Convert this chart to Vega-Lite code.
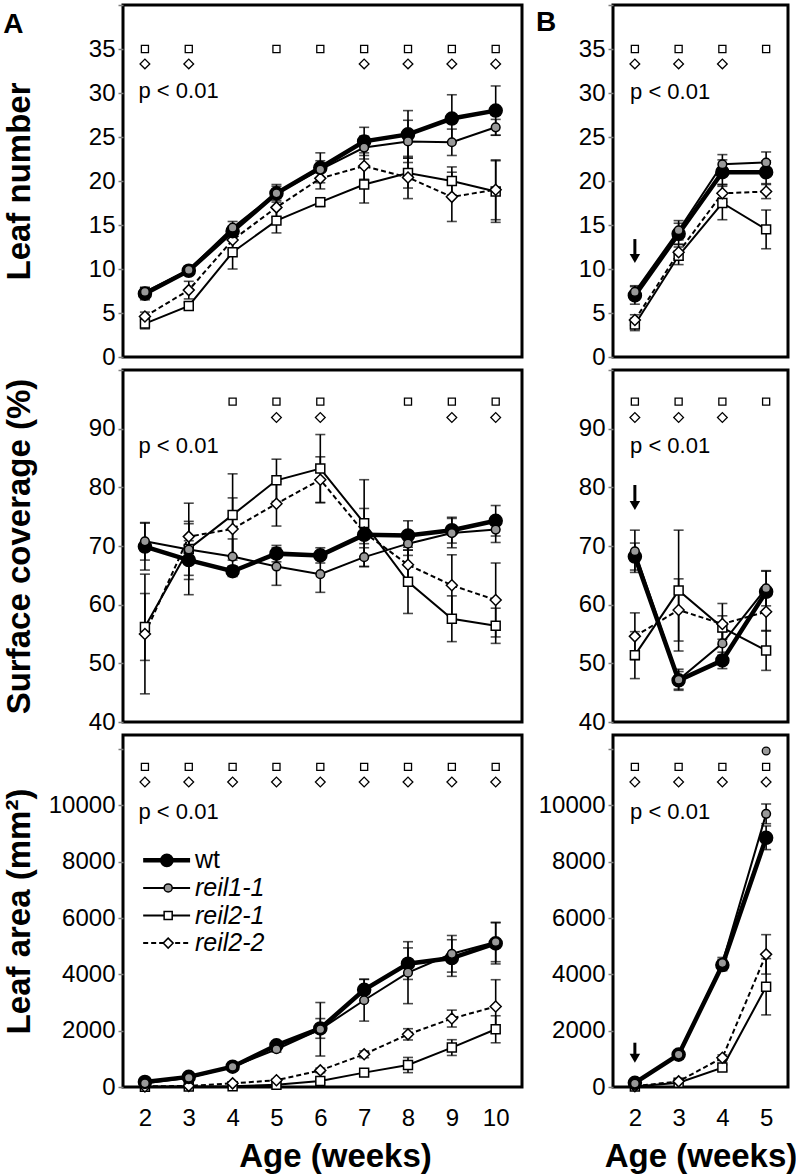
{
"$schema":"https://vega.github.io/schema/vega-lite/v6.json",
"padding":{"left":1,"top":2,"right":0,"bottom":0},
"config":{
 "font":"Liberation Sans",
 "view":{"stroke":"black","strokeWidth":3},
 "axis":{"grid":false,"domain":false,"labelFontSize":24,"labelColor":"black","labelFont":"Liberation Sans","tickColor":"#7f7f7f","tickSize":5,"tickWidth":1.5,"labelPadding":3,"titleFont":"Liberation Sans","titleFontSize":33,"titleFontWeight":"bold","titleColor":"black","labelFlush":false,"labelOverlap":false},
 "axisX":{"ticks":false,"tickSize":0,"labelPadding":19,"titlePadding":10},
 "axisY":{"minExtent":75,"maxExtent":75,"titlePadding":12},
 "line":{"color":"black","strokeWidth":2},
 "point":{"filled":true,"stroke":"black","strokeWidth":1.5,"opacity":1},
 "rule":{"color":"black"},
 "text":{"color":"black"}
},
"datasets":{
 "main":[
  {"p":"TL","s":"reil2-1","x":2,"y":3.8,"e":0.6},{"p":"TL","s":"reil2-1","x":3,"y":5.8,"e":0.4},{"p":"TL","s":"reil2-1","x":4,"y":11.9,"e":1.9},{"p":"TL","s":"reil2-1","x":5,"y":15.5,"e":1.4},{"p":"TL","s":"reil2-1","x":6,"y":17.6,"e":0.5},{"p":"TL","s":"reil2-1","x":7,"y":19.6,"e":2.1},{"p":"TL","s":"reil2-1","x":8,"y":20.9,"e":1.7},{"p":"TL","s":"reil2-1","x":9,"y":20.0,"e":1.6},{"p":"TL","s":"reil2-1","x":10,"y":18.8,"e":3.5},
  {"p":"TL","s":"reil2-2","x":2,"y":4.6,"e":0.5},{"p":"TL","s":"reil2-2","x":3,"y":7.6,"e":1.0},{"p":"TL","s":"reil2-2","x":4,"y":13.3,"e":1.1},{"p":"TL","s":"reil2-2","x":5,"y":17.0,"e":1.1},{"p":"TL","s":"reil2-2","x":6,"y":20.3,"e":1.2},{"p":"TL","s":"reil2-2","x":7,"y":21.7,"e":1.5},{"p":"TL","s":"reil2-2","x":8,"y":20.4,"e":2.4},{"p":"TL","s":"reil2-2","x":9,"y":18.2,"e":2.8},{"p":"TL","s":"reil2-2","x":10,"y":19.0,"e":3.4},
  {"p":"TL","s":"wt","x":2,"y":7.2,"e":0.7},{"p":"TL","s":"wt","x":3,"y":9.8,"e":0.4},{"p":"TL","s":"wt","x":4,"y":14.3,"e":0.6},{"p":"TL","s":"wt","x":5,"y":18.6,"e":1.0},{"p":"TL","s":"wt","x":6,"y":21.5,"e":1.7},{"p":"TL","s":"wt","x":7,"y":24.5,"e":1.6},{"p":"TL","s":"wt","x":8,"y":25.3,"e":2.7},{"p":"TL","s":"wt","x":9,"y":27.1,"e":2.7},{"p":"TL","s":"wt","x":10,"y":28.0,"e":2.8},
  {"p":"TL","s":"reil1-1","x":2,"y":7.4,"e":0.5},{"p":"TL","s":"reil1-1","x":3,"y":9.9,"e":0.4},{"p":"TL","s":"reil1-1","x":4,"y":14.7,"e":0.7},{"p":"TL","s":"reil1-1","x":5,"y":18.6,"e":0.8},{"p":"TL","s":"reil1-1","x":6,"y":21.3,"e":1.0},{"p":"TL","s":"reil1-1","x":7,"y":23.8,"e":1.3},{"p":"TL","s":"reil1-1","x":8,"y":24.5,"e":2.4},{"p":"TL","s":"reil1-1","x":9,"y":24.4,"e":1.5},{"p":"TL","s":"reil1-1","x":10,"y":26.1,"e":0.9},

  {"p":"TR","s":"reil2-1","x":2,"y":3.7,"e":0.7},{"p":"TR","s":"reil2-1","x":3,"y":11.5,"e":1.0},{"p":"TR","s":"reil2-1","x":4,"y":17.5,"e":1.9},{"p":"TR","s":"reil2-1","x":5,"y":14.5,"e":2.2},
  {"p":"TR","s":"reil2-2","x":2,"y":4.2,"e":0.6},{"p":"TR","s":"reil2-2","x":3,"y":11.9,"e":0.9},{"p":"TR","s":"reil2-2","x":4,"y":18.6,"e":1.0},{"p":"TR","s":"reil2-2","x":5,"y":18.8,"e":0.8},
  {"p":"TR","s":"wt","x":2,"y":7.0,"e":1.0},{"p":"TR","s":"wt","x":3,"y":14.0,"e":1.2},{"p":"TR","s":"wt","x":4,"y":21.0,"e":1.4},{"p":"TR","s":"wt","x":5,"y":21.0,"e":1.3},
  {"p":"TR","s":"reil1-1","x":2,"y":7.4,"e":0.7},{"p":"TR","s":"reil1-1","x":3,"y":14.4,"e":1.1},{"p":"TR","s":"reil1-1","x":4,"y":21.9,"e":1.1},{"p":"TR","s":"reil1-1","x":5,"y":22.1,"e":1.2},

  {"p":"ML","s":"reil2-1","x":2,"y":56.2,"e":5.7},{"p":"ML","s":"reil2-1","x":3,"y":69.5,"e":7.8},{"p":"ML","s":"reil2-1","x":4,"y":75.3,"e":7.0},{"p":"ML","s":"reil2-1","x":5,"y":81.2,"e":3.6},{"p":"ML","s":"reil2-1","x":6,"y":83.2,"e":5.8},{"p":"ML","s":"reil2-1","x":7,"y":73.9,"e":7.4},{"p":"ML","s":"reil2-1","x":8,"y":63.9,"e":5.4},{"p":"ML","s":"reil2-1","x":9,"y":57.6,"e":3.9},{"p":"ML","s":"reil2-1","x":10,"y":56.4,"e":3.0},
  {"p":"ML","s":"reil2-2","x":2,"y":55.0,"e":10.2},{"p":"ML","s":"reil2-2","x":3,"y":71.6,"e":2.6},{"p":"ML","s":"reil2-2","x":4,"y":72.9,"e":5.3},{"p":"ML","s":"reil2-2","x":5,"y":77.2,"e":3.8},{"p":"ML","s":"reil2-2","x":6,"y":81.3,"e":3.9},{"p":"ML","s":"reil2-2","x":7,"y":72.3,"e":4.1},{"p":"ML","s":"reil2-2","x":8,"y":66.8,"e":3.0},{"p":"ML","s":"reil2-2","x":9,"y":63.3,"e":5.2},{"p":"ML","s":"reil2-2","x":10,"y":60.8,"e":6.3},
  {"p":"ML","s":"wt","x":2,"y":69.9,"e":4.0},{"p":"ML","s":"wt","x":3,"y":67.6,"e":3.3},{"p":"ML","s":"wt","x":4,"y":65.7,"e":0.9},{"p":"ML","s":"wt","x":5,"y":68.7,"e":1.4},{"p":"ML","s":"wt","x":6,"y":68.4,"e":1.3},{"p":"ML","s":"wt","x":7,"y":71.9,"e":1.5},{"p":"ML","s":"wt","x":8,"y":71.8,"e":2.5},{"p":"ML","s":"wt","x":9,"y":72.7,"e":2.2},{"p":"ML","s":"wt","x":10,"y":74.3,"e":2.6},
  {"p":"ML","s":"reil1-1","x":2,"y":70.8,"e":3.2},{"p":"ML","s":"reil1-1","x":3,"y":69.4,"e":4.4},{"p":"ML","s":"reil1-1","x":4,"y":68.2,"e":3.0},{"p":"ML","s":"reil1-1","x":5,"y":66.5,"e":3.2},{"p":"ML","s":"reil1-1","x":6,"y":65.2,"e":3.1},{"p":"ML","s":"reil1-1","x":7,"y":68.1,"e":1.6},{"p":"ML","s":"reil1-1","x":8,"y":70.4,"e":2.0},{"p":"ML","s":"reil1-1","x":9,"y":72.2,"e":2.5},{"p":"ML","s":"reil1-1","x":10,"y":72.8,"e":2.2},

  {"p":"MR","s":"reil2-1","x":2,"y":51.4,"e":4.0},{"p":"MR","s":"reil2-1","x":3,"y":62.4,"e":10.3},{"p":"MR","s":"reil2-1","x":4,"y":56.1,"e":2.0},{"p":"MR","s":"reil2-1","x":5,"y":52.2,"e":3.4},
  {"p":"MR","s":"reil2-2","x":2,"y":54.6,"e":4.0},{"p":"MR","s":"reil2-2","x":3,"y":59.1,"e":5.3},{"p":"MR","s":"reil2-2","x":4,"y":56.7,"e":3.5},{"p":"MR","s":"reil2-2","x":5,"y":58.8,"e":3.3},
  {"p":"MR","s":"wt","x":2,"y":68.2,"e":2.3},{"p":"MR","s":"wt","x":3,"y":47.1,"e":1.5},{"p":"MR","s":"wt","x":4,"y":50.5,"e":1.4},{"p":"MR","s":"wt","x":5,"y":62.2,"e":3.5},
  {"p":"MR","s":"reil1-1","x":2,"y":69.1,"e":3.6},{"p":"MR","s":"reil1-1","x":3,"y":47.2,"e":1.8},{"p":"MR","s":"reil1-1","x":4,"y":53.4,"e":2.0},{"p":"MR","s":"reil1-1","x":5,"y":62.8,"e":3.0},

  {"p":"BL","s":"reil2-1","x":2,"y":10,"e":10},{"p":"BL","s":"reil2-1","x":3,"y":15,"e":10},{"p":"BL","s":"reil2-1","x":4,"y":30,"e":20},{"p":"BL","s":"reil2-1","x":5,"y":80,"e":30},{"p":"BL","s":"reil2-1","x":6,"y":210,"e":60},{"p":"BL","s":"reil2-1","x":7,"y":510,"e":60},{"p":"BL","s":"reil2-1","x":8,"y":780,"e":270},{"p":"BL","s":"reil2-1","x":9,"y":1400,"e":280},{"p":"BL","s":"reil2-1","x":10,"y":2050,"e":480},
  {"p":"BL","s":"reil2-2","x":2,"y":20,"e":10},{"p":"BL","s":"reil2-2","x":3,"y":40,"e":15},{"p":"BL","s":"reil2-2","x":4,"y":130,"e":40},{"p":"BL","s":"reil2-2","x":5,"y":240,"e":50},{"p":"BL","s":"reil2-2","x":6,"y":590,"e":80},{"p":"BL","s":"reil2-2","x":7,"y":1160,"e":120},{"p":"BL","s":"reil2-2","x":8,"y":1870,"e":200},{"p":"BL","s":"reil2-2","x":9,"y":2430,"e":300},{"p":"BL","s":"reil2-2","x":10,"y":2860,"e":950},
  {"p":"BL","s":"wt","x":2,"y":180,"e":60},{"p":"BL","s":"wt","x":3,"y":360,"e":60},{"p":"BL","s":"wt","x":4,"y":720,"e":90},{"p":"BL","s":"wt","x":5,"y":1480,"e":120},{"p":"BL","s":"wt","x":6,"y":2080,"e":350},{"p":"BL","s":"wt","x":7,"y":3450,"e":380},{"p":"BL","s":"wt","x":8,"y":4380,"e":560},{"p":"BL","s":"wt","x":9,"y":4580,"e":650},{"p":"BL","s":"wt","x":10,"y":5100,"e":730},
  {"p":"BL","s":"reil1-1","x":2,"y":130,"e":40},{"p":"BL","s":"reil1-1","x":3,"y":330,"e":60},{"p":"BL","s":"reil1-1","x":4,"y":720,"e":80},{"p":"BL","s":"reil1-1","x":5,"y":1340,"e":100},{"p":"BL","s":"reil1-1","x":6,"y":2050,"e":950},{"p":"BL","s":"reil1-1","x":7,"y":3080,"e":740},{"p":"BL","s":"reil1-1","x":8,"y":4060,"e":1100},{"p":"BL","s":"reil1-1","x":9,"y":4730,"e":650},{"p":"BL","s":"reil1-1","x":10,"y":5150,"e":700},

  {"p":"BR","s":"reil2-1","x":2,"y":15,"e":10},{"p":"BR","s":"reil2-1","x":3,"y":150,"e":30},{"p":"BR","s":"reil2-1","x":4,"y":690,"e":100},{"p":"BR","s":"reil2-1","x":5,"y":3560,"e":1000},
  {"p":"BR","s":"reil2-2","x":2,"y":30,"e":15},{"p":"BR","s":"reil2-2","x":3,"y":200,"e":40},{"p":"BR","s":"reil2-2","x":4,"y":1040,"e":100},{"p":"BR","s":"reil2-2","x":5,"y":4710,"e":700},
  {"p":"BR","s":"wt","x":2,"y":150,"e":50},{"p":"BR","s":"wt","x":3,"y":1150,"e":80},{"p":"BR","s":"wt","x":4,"y":4330,"e":200},{"p":"BR","s":"wt","x":5,"y":8850,"e":420},
  {"p":"BR","s":"reil1-1","x":2,"y":120,"e":40},{"p":"BR","s":"reil1-1","x":3,"y":1150,"e":80},{"p":"BR","s":"reil1-1","x":4,"y":4400,"e":200},{"p":"BR","s":"reil1-1","x":5,"y":9700,"e":350}
 ],
 "sig":[
  {"p":"TL","s":"reil2-1","x":2,"y":35},{"p":"TL","s":"reil2-1","x":3,"y":35},{"p":"TL","s":"reil2-1","x":5,"y":35},{"p":"TL","s":"reil2-1","x":6,"y":35},{"p":"TL","s":"reil2-1","x":7,"y":35},{"p":"TL","s":"reil2-1","x":8,"y":35},{"p":"TL","s":"reil2-1","x":9,"y":35},{"p":"TL","s":"reil2-1","x":10,"y":35},
  {"p":"TL","s":"reil2-2","x":2,"y":33.3},{"p":"TL","s":"reil2-2","x":3,"y":33.3},{"p":"TL","s":"reil2-2","x":7,"y":33.3},{"p":"TL","s":"reil2-2","x":8,"y":33.3},{"p":"TL","s":"reil2-2","x":9,"y":33.3},{"p":"TL","s":"reil2-2","x":10,"y":33.3},
  {"p":"TR","s":"reil2-1","x":2,"y":35},{"p":"TR","s":"reil2-1","x":3,"y":35},{"p":"TR","s":"reil2-1","x":4,"y":35},{"p":"TR","s":"reil2-1","x":5,"y":35},
  {"p":"TR","s":"reil2-2","x":2,"y":33.3},{"p":"TR","s":"reil2-2","x":3,"y":33.3},{"p":"TR","s":"reil2-2","x":4,"y":33.3},
  {"p":"ML","s":"reil2-1","x":4,"y":94.6},{"p":"ML","s":"reil2-1","x":5,"y":94.6},{"p":"ML","s":"reil2-1","x":6,"y":94.6},{"p":"ML","s":"reil2-1","x":8,"y":94.6},{"p":"ML","s":"reil2-1","x":9,"y":94.6},{"p":"ML","s":"reil2-1","x":10,"y":94.6},
  {"p":"ML","s":"reil2-2","x":5,"y":91.9},{"p":"ML","s":"reil2-2","x":6,"y":91.9},{"p":"ML","s":"reil2-2","x":9,"y":91.9},{"p":"ML","s":"reil2-2","x":10,"y":91.9},
  {"p":"MR","s":"reil2-1","x":2,"y":94.6},{"p":"MR","s":"reil2-1","x":3,"y":94.6},{"p":"MR","s":"reil2-1","x":4,"y":94.6},{"p":"MR","s":"reil2-1","x":5,"y":94.6},
  {"p":"MR","s":"reil2-2","x":2,"y":91.9},{"p":"MR","s":"reil2-2","x":3,"y":91.9},{"p":"MR","s":"reil2-2","x":4,"y":91.9},
  {"p":"BL","s":"reil2-1","x":2,"y":11370},{"p":"BL","s":"reil2-1","x":3,"y":11370},{"p":"BL","s":"reil2-1","x":4,"y":11370},{"p":"BL","s":"reil2-1","x":5,"y":11370},{"p":"BL","s":"reil2-1","x":6,"y":11370},{"p":"BL","s":"reil2-1","x":7,"y":11370},{"p":"BL","s":"reil2-1","x":8,"y":11370},{"p":"BL","s":"reil2-1","x":9,"y":11370},{"p":"BL","s":"reil2-1","x":10,"y":11370},
  {"p":"BL","s":"reil2-2","x":2,"y":10830},{"p":"BL","s":"reil2-2","x":3,"y":10830},{"p":"BL","s":"reil2-2","x":4,"y":10830},{"p":"BL","s":"reil2-2","x":5,"y":10830},{"p":"BL","s":"reil2-2","x":6,"y":10830},{"p":"BL","s":"reil2-2","x":7,"y":10830},{"p":"BL","s":"reil2-2","x":8,"y":10830},{"p":"BL","s":"reil2-2","x":9,"y":10830},{"p":"BL","s":"reil2-2","x":10,"y":10830},
  {"p":"BR","s":"reil2-1","x":2,"y":11370},{"p":"BR","s":"reil2-1","x":3,"y":11370},{"p":"BR","s":"reil2-1","x":4,"y":11370},{"p":"BR","s":"reil2-1","x":5,"y":11370},
  {"p":"BR","s":"reil2-2","x":2,"y":10830},{"p":"BR","s":"reil2-2","x":3,"y":10830},{"p":"BR","s":"reil2-2","x":4,"y":10830},{"p":"BR","s":"reil2-2","x":5,"y":10830},
  {"p":"BR","s":"reil1-1","x":5,"y":11930}
 ],
 "ptext":[
  {"p":"TL","t":"p < 0.01","x":1.854,"y":29.4},{"p":"TR","t":"p < 0.01","x":1.89,"y":29.3},
  {"p":"ML","t":"p < 0.01","x":1.854,"y":85.8},{"p":"MR","t":"p < 0.01","x":1.89,"y":85.8},
  {"p":"BL","t":"p < 0.01","x":1.854,"y":9500},{"p":"BR","t":"p < 0.01","x":1.89,"y":9500}
 ],
 "letters":[{"p":"TL","t":"A","x":-1.0,"y":37.7},{"p":"TR","t":"B","x":-0.03,"y":37.9}],
 "arrow":[{"p":"TR","x":2,"y":13.4,"yb":11.5},{"p":"MR","x":2,"y":80.4,"yb":77.3},{"p":"BR","x":2,"y":1573,"yb":1100}],
 "head":[{"p":"TR","x":2,"y":11.2},{"p":"MR","x":2,"y":76.9},{"p":"BR","x":2,"y":1023}],
 "legline":[{"s":"wt","x":1.96,"x2":3.03,"y":8050},{"s":"reil1-1","x":1.96,"x2":3.03,"y":7070},{"s":"reil2-1","x":1.96,"x2":3.03,"y":6090},{"s":"reil2-2","x":1.96,"x2":3.03,"y":5110}],
 "legpt":[{"s":"wt","x":2.5,"y":8050},{"s":"reil1-1","x":2.53,"y":7070},{"s":"reil2-1","x":2.53,"y":6090},{"s":"reil2-2","x":2.53,"y":5110}],
 "legtxt":[{"s":"wt","t":"wt","x":3.14,"y":8050},{"s":"reil1-1","t":"reil1-1","x":3.14,"y":7070},{"s":"reil2-1","t":"reil2-1","x":3.14,"y":6090},{"s":"reil2-2","t":"reil2-2","x":3.14,"y":5110}]
},
"columns":2,
"spacing":{"row":13,"column":91},
"bounds":"flush",
"concat":[
 {"width":399,"height":352,
  "encoding":{
   "x":{"field":"x","type":"quantitative","scale":{"domain":[1.5,10.6],"nice":false,"zero":false},"axis":null},
   "y":{"field":"y","type":"quantitative","scale":{"domain":[0,40],"nice":false,"zero":false},"axis":{"values":[0,5,10,15,20,25,30,35,40],"labelExpr":"datum.value>=40?'':datum.label","labelFontSize":{"condition":{"test":"datum.value>=40","value":0},"value":24},"title":"Leaf number"}}
  },
  "layer":[
   {"data":{"name":"main"},"transform":[{"filter":"datum.p==='TL'"}],"mark":{"type":"errorbar","ticks":true,"size":10,"thickness":1.6,"color":"black"},"encoding":{"yError":{"field":"e"}}},
   {"data":{"name":"main"},"transform":[{"filter":"datum.p==='TL'&&datum.s==='reil2-1'"}],"mark":{"type":"line","strokeWidth":2},"encoding":{}},
   {"data":{"name":"main"},"transform":[{"filter":"datum.p==='TL'&&datum.s==='reil2-2'"}],"mark":{"type":"line","strokeWidth":2,"strokeDash":[5,3]},"encoding":{}},
   {"data":{"name":"main"},"transform":[{"filter":"datum.p==='TL'&&datum.s==='wt'"}],"mark":{"type":"line","strokeWidth":4.5},"encoding":{}},
   {"data":{"name":"main"},"transform":[{"filter":"datum.p==='TL'&&datum.s==='reil1-1'"}],"mark":{"type":"line","strokeWidth":2},"encoding":{}},
   {"data":{"name":"main"},"transform":[{"filter":"datum.p==='TL'&&datum.s==='reil2-1'"}],"mark":{"type":"point","shape":"square","size":80,"fill":"white"}},
   {"data":{"name":"main"},"transform":[{"filter":"datum.p==='TL'&&datum.s==='reil2-2'"}],"mark":{"type":"point","shape":"diamond","size":120,"fill":"white"}},
   {"data":{"name":"main"},"transform":[{"filter":"datum.p==='TL'&&datum.s==='wt'"}],"mark":{"type":"point","shape":"circle","size":170,"fill":"black"}},
   {"data":{"name":"main"},"transform":[{"filter":"datum.p==='TL'&&datum.s==='reil1-1'"}],"mark":{"type":"point","shape":"circle","size":75,"fill":"#999999"}},
   {"data":{"name":"sig"},"transform":[{"filter":"datum.p==='TL'&&datum.s==='reil2-1'"}],"mark":{"type":"point","shape":"square","size":50,"fill":"white","strokeWidth":1.3}},
   {"data":{"name":"sig"},"transform":[{"filter":"datum.p==='TL'&&datum.s==='reil2-2'"}],"mark":{"type":"point","shape":"diamond","size":95,"fill":"white","strokeWidth":1.3}},
   {"data":{"name":"ptext"},"transform":[{"filter":"datum.p==='TL'"}],"mark":{"type":"text","align":"left","baseline":"alphabetic","fontSize":22},"encoding":{"text":{"field":"t","type":"nominal"}}},
   {"data":{"name":"letters"},"transform":[{"filter":"datum.p==='TL'"}],"mark":{"type":"text","align":"center","baseline":"middle","fontSize":28,"fontWeight":"bold"},"encoding":{"text":{"field":"t","type":"nominal"}}}
  ]
 },
 {"width":175,"height":352,
  "encoding":{
   "x":{"field":"x","type":"quantitative","scale":{"domain":[1.5,5.5],"nice":false,"zero":false},"axis":null},
   "y":{"field":"y","type":"quantitative","scale":{"domain":[0,40],"nice":false,"zero":false},"axis":{"values":[0,5,10,15,20,25,30,35,40],"labelExpr":"datum.value>=40?'':datum.label","labelFontSize":{"condition":{"test":"datum.value>=40","value":0},"value":24},"title":null}}
  },
  "layer":[
   {"data":{"name":"main"},"transform":[{"filter":"datum.p==='TR'"}],"mark":{"type":"errorbar","ticks":true,"size":10,"thickness":1.6,"color":"black"},"encoding":{"yError":{"field":"e"}}},
   {"data":{"name":"main"},"transform":[{"filter":"datum.p==='TR'&&datum.s==='reil2-1'"}],"mark":{"type":"line","strokeWidth":2},"encoding":{}},
   {"data":{"name":"main"},"transform":[{"filter":"datum.p==='TR'&&datum.s==='reil2-2'"}],"mark":{"type":"line","strokeWidth":2,"strokeDash":[5,3]},"encoding":{}},
   {"data":{"name":"main"},"transform":[{"filter":"datum.p==='TR'&&datum.s==='wt'"}],"mark":{"type":"line","strokeWidth":4.5},"encoding":{}},
   {"data":{"name":"main"},"transform":[{"filter":"datum.p==='TR'&&datum.s==='reil1-1'"}],"mark":{"type":"line","strokeWidth":2},"encoding":{}},
   {"data":{"name":"main"},"transform":[{"filter":"datum.p==='TR'&&datum.s==='reil2-1'"}],"mark":{"type":"point","shape":"square","size":80,"fill":"white"}},
   {"data":{"name":"main"},"transform":[{"filter":"datum.p==='TR'&&datum.s==='reil2-2'"}],"mark":{"type":"point","shape":"diamond","size":120,"fill":"white"}},
   {"data":{"name":"main"},"transform":[{"filter":"datum.p==='TR'&&datum.s==='wt'"}],"mark":{"type":"point","shape":"circle","size":170,"fill":"black"}},
   {"data":{"name":"main"},"transform":[{"filter":"datum.p==='TR'&&datum.s==='reil1-1'"}],"mark":{"type":"point","shape":"circle","size":75,"fill":"#999999"}},
   {"data":{"name":"sig"},"transform":[{"filter":"datum.p==='TR'&&datum.s==='reil2-1'"}],"mark":{"type":"point","shape":"square","size":50,"fill":"white","strokeWidth":1.3}},
   {"data":{"name":"sig"},"transform":[{"filter":"datum.p==='TR'&&datum.s==='reil2-2'"}],"mark":{"type":"point","shape":"diamond","size":95,"fill":"white","strokeWidth":1.3}},
   {"data":{"name":"ptext"},"transform":[{"filter":"datum.p==='TR'"}],"mark":{"type":"text","align":"left","baseline":"alphabetic","fontSize":22},"encoding":{"text":{"field":"t","type":"nominal"}}},
   {"data":{"name":"letters"},"transform":[{"filter":"datum.p==='TR'"}],"mark":{"type":"text","align":"center","baseline":"middle","fontSize":28,"fontWeight":"bold"},"encoding":{"text":{"field":"t","type":"nominal"}}},
   {"data":{"name":"arrow"},"transform":[{"filter":"datum.p==='TR'"}],"mark":{"type":"rule","strokeWidth":3},"encoding":{"y2":{"field":"yb"}}},
   {"data":{"name":"head"},"transform":[{"filter":"datum.p==='TR'"}],"mark":{"type":"point","shape":"triangle-down","fill":"black","strokeWidth":0,"size":110},"encoding":{}}
  ]
 },
 {"width":399,"height":352,
  "encoding":{
   "x":{"field":"x","type":"quantitative","scale":{"domain":[1.5,10.6],"nice":false,"zero":false},"axis":null},
   "y":{"field":"y","type":"quantitative","scale":{"domain":[40,100],"nice":false,"zero":false},"axis":{"values":[40,50,60,70,80,90,100],"labelExpr":"datum.value>=100?'':datum.label","labelFontSize":{"condition":{"test":"datum.value>=100","value":0},"value":24},"title":"Surface coverage (%)"}}
  },
  "layer":[
   {"data":{"name":"main"},"transform":[{"filter":"datum.p==='ML'"}],"mark":{"type":"errorbar","ticks":true,"size":10,"thickness":1.6,"color":"black"},"encoding":{"yError":{"field":"e"}}},
   {"data":{"name":"main"},"transform":[{"filter":"datum.p==='ML'&&datum.s==='reil2-1'"}],"mark":{"type":"line","strokeWidth":2},"encoding":{}},
   {"data":{"name":"main"},"transform":[{"filter":"datum.p==='ML'&&datum.s==='reil2-2'"}],"mark":{"type":"line","strokeWidth":2,"strokeDash":[5,3]},"encoding":{}},
   {"data":{"name":"main"},"transform":[{"filter":"datum.p==='ML'&&datum.s==='wt'"}],"mark":{"type":"line","strokeWidth":4.5},"encoding":{}},
   {"data":{"name":"main"},"transform":[{"filter":"datum.p==='ML'&&datum.s==='reil1-1'"}],"mark":{"type":"line","strokeWidth":2},"encoding":{}},
   {"data":{"name":"main"},"transform":[{"filter":"datum.p==='ML'&&datum.s==='reil2-1'"}],"mark":{"type":"point","shape":"square","size":80,"fill":"white"}},
   {"data":{"name":"main"},"transform":[{"filter":"datum.p==='ML'&&datum.s==='reil2-2'"}],"mark":{"type":"point","shape":"diamond","size":120,"fill":"white"}},
   {"data":{"name":"main"},"transform":[{"filter":"datum.p==='ML'&&datum.s==='wt'"}],"mark":{"type":"point","shape":"circle","size":170,"fill":"black"}},
   {"data":{"name":"main"},"transform":[{"filter":"datum.p==='ML'&&datum.s==='reil1-1'"}],"mark":{"type":"point","shape":"circle","size":75,"fill":"#999999"}},
   {"data":{"name":"sig"},"transform":[{"filter":"datum.p==='ML'&&datum.s==='reil2-1'"}],"mark":{"type":"point","shape":"square","size":50,"fill":"white","strokeWidth":1.3}},
   {"data":{"name":"sig"},"transform":[{"filter":"datum.p==='ML'&&datum.s==='reil2-2'"}],"mark":{"type":"point","shape":"diamond","size":95,"fill":"white","strokeWidth":1.3}},
   {"data":{"name":"ptext"},"transform":[{"filter":"datum.p==='ML'"}],"mark":{"type":"text","align":"left","baseline":"alphabetic","fontSize":22},"encoding":{"text":{"field":"t","type":"nominal"}}}
  ]
 },
 {"width":175,"height":352,
  "encoding":{
   "x":{"field":"x","type":"quantitative","scale":{"domain":[1.5,5.5],"nice":false,"zero":false},"axis":null},
   "y":{"field":"y","type":"quantitative","scale":{"domain":[40,100],"nice":false,"zero":false},"axis":{"values":[40,50,60,70,80,90,100],"labelExpr":"datum.value>=100?'':datum.label","labelFontSize":{"condition":{"test":"datum.value>=100","value":0},"value":24},"title":null}}
  },
  "layer":[
   {"data":{"name":"main"},"transform":[{"filter":"datum.p==='MR'"}],"mark":{"type":"errorbar","ticks":true,"size":10,"thickness":1.6,"color":"black"},"encoding":{"yError":{"field":"e"}}},
   {"data":{"name":"main"},"transform":[{"filter":"datum.p==='MR'&&datum.s==='reil2-1'"}],"mark":{"type":"line","strokeWidth":2},"encoding":{}},
   {"data":{"name":"main"},"transform":[{"filter":"datum.p==='MR'&&datum.s==='reil2-2'"}],"mark":{"type":"line","strokeWidth":2,"strokeDash":[5,3]},"encoding":{}},
   {"data":{"name":"main"},"transform":[{"filter":"datum.p==='MR'&&datum.s==='wt'"}],"mark":{"type":"line","strokeWidth":4.5},"encoding":{}},
   {"data":{"name":"main"},"transform":[{"filter":"datum.p==='MR'&&datum.s==='reil1-1'"}],"mark":{"type":"line","strokeWidth":2},"encoding":{}},
   {"data":{"name":"main"},"transform":[{"filter":"datum.p==='MR'&&datum.s==='reil2-1'"}],"mark":{"type":"point","shape":"square","size":80,"fill":"white"}},
   {"data":{"name":"main"},"transform":[{"filter":"datum.p==='MR'&&datum.s==='reil2-2'"}],"mark":{"type":"point","shape":"diamond","size":120,"fill":"white"}},
   {"data":{"name":"main"},"transform":[{"filter":"datum.p==='MR'&&datum.s==='wt'"}],"mark":{"type":"point","shape":"circle","size":170,"fill":"black"}},
   {"data":{"name":"main"},"transform":[{"filter":"datum.p==='MR'&&datum.s==='reil1-1'"}],"mark":{"type":"point","shape":"circle","size":75,"fill":"#999999"}},
   {"data":{"name":"sig"},"transform":[{"filter":"datum.p==='MR'&&datum.s==='reil2-1'"}],"mark":{"type":"point","shape":"square","size":50,"fill":"white","strokeWidth":1.3}},
   {"data":{"name":"sig"},"transform":[{"filter":"datum.p==='MR'&&datum.s==='reil2-2'"}],"mark":{"type":"point","shape":"diamond","size":95,"fill":"white","strokeWidth":1.3}},
   {"data":{"name":"ptext"},"transform":[{"filter":"datum.p==='MR'"}],"mark":{"type":"text","align":"left","baseline":"alphabetic","fontSize":22},"encoding":{"text":{"field":"t","type":"nominal"}}},
   {"data":{"name":"arrow"},"transform":[{"filter":"datum.p==='MR'"}],"mark":{"type":"rule","strokeWidth":3},"encoding":{"y2":{"field":"yb"}}},
   {"data":{"name":"head"},"transform":[{"filter":"datum.p==='MR'"}],"mark":{"type":"point","shape":"triangle-down","fill":"black","strokeWidth":0,"size":110},"encoding":{}}
  ]
 },
 {"width":399,"height":352,
  "encoding":{
   "x":{"field":"x","type":"quantitative","scale":{"domain":[1.5,10.6],"nice":false,"zero":false},"axis":{"values":[2,3,4,5,6,7,8,9,10],"format":"d","title":"Age (weeks)","titleX":212}},
   "y":{"field":"y","type":"quantitative","scale":{"domain":[0,12500],"nice":false,"zero":false},"axis":{"values":[0,2000,4000,6000,8000,10000,12000],"format":"d","labelExpr":"datum.value>=12000?'':datum.label","title":"Leaf area (mm²)"}}
  },
  "layer":[
   {"data":{"name":"main"},"transform":[{"filter":"datum.p==='BL'"}],"mark":{"type":"errorbar","ticks":true,"size":10,"thickness":1.6,"color":"black"},"encoding":{"yError":{"field":"e"}}},
   {"data":{"name":"main"},"transform":[{"filter":"datum.p==='BL'&&datum.s==='reil2-1'"}],"mark":{"type":"line","strokeWidth":2},"encoding":{}},
   {"data":{"name":"main"},"transform":[{"filter":"datum.p==='BL'&&datum.s==='reil2-2'"}],"mark":{"type":"line","strokeWidth":2,"strokeDash":[5,3]},"encoding":{}},
   {"data":{"name":"main"},"transform":[{"filter":"datum.p==='BL'&&datum.s==='wt'"}],"mark":{"type":"line","strokeWidth":4.5},"encoding":{}},
   {"data":{"name":"main"},"transform":[{"filter":"datum.p==='BL'&&datum.s==='reil1-1'"}],"mark":{"type":"line","strokeWidth":2},"encoding":{}},
   {"data":{"name":"main"},"transform":[{"filter":"datum.p==='BL'&&datum.s==='reil2-1'"}],"mark":{"type":"point","shape":"square","size":80,"fill":"white"}},
   {"data":{"name":"main"},"transform":[{"filter":"datum.p==='BL'&&datum.s==='reil2-2'"}],"mark":{"type":"point","shape":"diamond","size":120,"fill":"white"}},
   {"data":{"name":"main"},"transform":[{"filter":"datum.p==='BL'&&datum.s==='wt'"}],"mark":{"type":"point","shape":"circle","size":170,"fill":"black"}},
   {"data":{"name":"main"},"transform":[{"filter":"datum.p==='BL'&&datum.s==='reil1-1'"}],"mark":{"type":"point","shape":"circle","size":75,"fill":"#999999"}},
   {"data":{"name":"sig"},"transform":[{"filter":"datum.p==='BL'&&datum.s==='reil2-1'"}],"mark":{"type":"point","shape":"square","size":50,"fill":"white","strokeWidth":1.3}},
   {"data":{"name":"sig"},"transform":[{"filter":"datum.p==='BL'&&datum.s==='reil2-2'"}],"mark":{"type":"point","shape":"diamond","size":95,"fill":"white","strokeWidth":1.3}},
   {"data":{"name":"ptext"},"transform":[{"filter":"datum.p==='BL'"}],"mark":{"type":"text","align":"left","baseline":"alphabetic","fontSize":22},"encoding":{"text":{"field":"t","type":"nominal"}}},
   {"data":{"name":"legline"},"transform":[{"filter":"datum.s==='wt'"}],"mark":{"type":"rule","strokeWidth":4.5},"encoding":{"x2":{"field":"x2"}}},
   {"data":{"name":"legline"},"transform":[{"filter":"datum.s==='reil1-1'||datum.s==='reil2-1'"}],"mark":{"type":"rule","strokeWidth":2},"encoding":{"x2":{"field":"x2"}}},
   {"data":{"name":"legline"},"transform":[{"filter":"datum.s==='reil2-2'"}],"mark":{"type":"rule","strokeWidth":2,"strokeDash":[5,3]},"encoding":{"x2":{"field":"x2"}}},
   {"data":{"name":"legpt"},"transform":[{"filter":"datum.s==='wt'"}],"mark":{"type":"point","shape":"circle","size":150,"fill":"black"}},
   {"data":{"name":"legpt"},"transform":[{"filter":"datum.s==='reil1-1'"}],"mark":{"type":"point","shape":"circle","size":65,"fill":"#999999"}},
   {"data":{"name":"legpt"},"transform":[{"filter":"datum.s==='reil2-1'"}],"mark":{"type":"point","shape":"square","size":65,"fill":"white"}},
   {"data":{"name":"legpt"},"transform":[{"filter":"datum.s==='reil2-2'"}],"mark":{"type":"point","shape":"diamond","size":100,"fill":"white"}},
   {"data":{"name":"legtxt"},"transform":[{"filter":"datum.s==='wt'"}],"mark":{"type":"text","align":"left","baseline":"middle","fontSize":25},"encoding":{"text":{"field":"t","type":"nominal"}}},
   {"data":{"name":"legtxt"},"transform":[{"filter":"datum.s!=='wt'"}],"mark":{"type":"text","align":"left","baseline":"middle","fontSize":25,"fontStyle":"italic"},"encoding":{"text":{"field":"t","type":"nominal"}}}
  ]
 },
 {"width":175,"height":352,
  "encoding":{
   "x":{"field":"x","type":"quantitative","scale":{"domain":[1.5,5.5],"nice":false,"zero":false},"axis":{"values":[2,3,4,5],"format":"d","title":"Age (weeks)"}},
   "y":{"field":"y","type":"quantitative","scale":{"domain":[0,12500],"nice":false,"zero":false},"axis":{"values":[0,2000,4000,6000,8000,10000,12000],"format":"d","labelExpr":"datum.value>=12000?'':datum.label","title":null}}
  },
  "layer":[
   {"data":{"name":"main"},"transform":[{"filter":"datum.p==='BR'"}],"mark":{"type":"errorbar","ticks":true,"size":10,"thickness":1.6,"color":"black"},"encoding":{"yError":{"field":"e"}}},
   {"data":{"name":"main"},"transform":[{"filter":"datum.p==='BR'&&datum.s==='reil2-1'"}],"mark":{"type":"line","strokeWidth":2},"encoding":{}},
   {"data":{"name":"main"},"transform":[{"filter":"datum.p==='BR'&&datum.s==='reil2-2'"}],"mark":{"type":"line","strokeWidth":2,"strokeDash":[5,3]},"encoding":{}},
   {"data":{"name":"main"},"transform":[{"filter":"datum.p==='BR'&&datum.s==='wt'"}],"mark":{"type":"line","strokeWidth":4.5},"encoding":{}},
   {"data":{"name":"main"},"transform":[{"filter":"datum.p==='BR'&&datum.s==='reil1-1'"}],"mark":{"type":"line","strokeWidth":2},"encoding":{}},
   {"data":{"name":"main"},"transform":[{"filter":"datum.p==='BR'&&datum.s==='reil2-1'"}],"mark":{"type":"point","shape":"square","size":80,"fill":"white"}},
   {"data":{"name":"main"},"transform":[{"filter":"datum.p==='BR'&&datum.s==='reil2-2'"}],"mark":{"type":"point","shape":"diamond","size":120,"fill":"white"}},
   {"data":{"name":"main"},"transform":[{"filter":"datum.p==='BR'&&datum.s==='wt'"}],"mark":{"type":"point","shape":"circle","size":170,"fill":"black"}},
   {"data":{"name":"main"},"transform":[{"filter":"datum.p==='BR'&&datum.s==='reil1-1'"}],"mark":{"type":"point","shape":"circle","size":75,"fill":"#999999"}},
   {"data":{"name":"sig"},"transform":[{"filter":"datum.p==='BR'&&datum.s==='reil2-1'"}],"mark":{"type":"point","shape":"square","size":50,"fill":"white","strokeWidth":1.3}},
   {"data":{"name":"sig"},"transform":[{"filter":"datum.p==='BR'&&datum.s==='reil2-2'"}],"mark":{"type":"point","shape":"diamond","size":95,"fill":"white","strokeWidth":1.3}},
   {"data":{"name":"sig"},"transform":[{"filter":"datum.p==='BR'&&datum.s==='reil1-1'"}],"mark":{"type":"point","shape":"circle","size":60,"fill":"#999999","strokeWidth":1.3}},
   {"data":{"name":"ptext"},"transform":[{"filter":"datum.p==='BR'"}],"mark":{"type":"text","align":"left","baseline":"alphabetic","fontSize":22},"encoding":{"text":{"field":"t","type":"nominal"}}},
   {"data":{"name":"arrow"},"transform":[{"filter":"datum.p==='BR'"}],"mark":{"type":"rule","strokeWidth":3},"encoding":{"y2":{"field":"yb"}}},
   {"data":{"name":"head"},"transform":[{"filter":"datum.p==='BR'"}],"mark":{"type":"point","shape":"triangle-down","fill":"black","strokeWidth":0,"size":110},"encoding":{}}
  ]
 }
]
}
